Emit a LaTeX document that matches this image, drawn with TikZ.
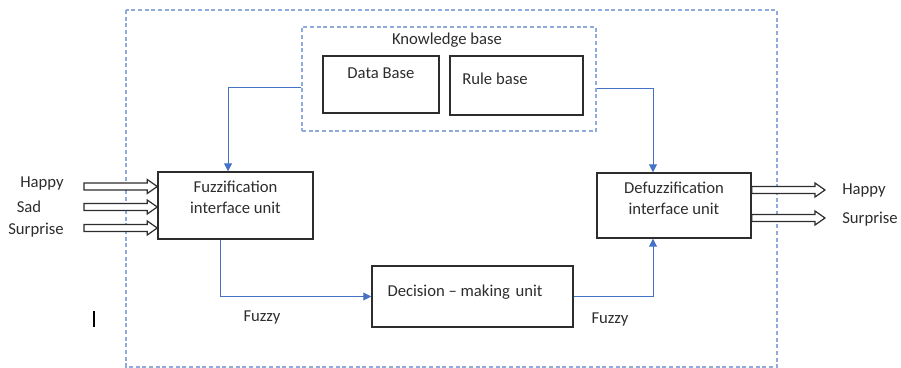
\documentclass[tikz,border=0pt]{standalone}
\usepackage{fontspec}
\setmainfont{Carlito}
\usetikzlibrary{calc,arrows.meta}

\definecolor{azul}{RGB}{68,114,196}
\definecolor{azulclaro}{RGB}{143,170,220}
\definecolor{gris}{RGB}{45,45,45}

% flecha de bloque horizontal: #1 inicio, #2 punta
\newcommand{\flechabloque}[2]{%
  \draw[bloque] let \p1=(#1), \p2=(#2) in
    (\x1,\y1+2.6pt) -- (\x2-7.5pt,\y1+2.6pt) -- (\x2-7.5pt,\y1+5.25pt) -- (\x2,\y1)
    -- (\x2-7.5pt,\y1-5.25pt) -- (\x2-7.5pt,\y1-2.6pt) -- (\x1,\y1-2.6pt) -- cycle;}

\begin{document}
\begin{tikzpicture}[x=0.75pt,y=-0.75pt,
    caja/.style={draw=gris,line width=1.1pt,inner sep=0pt},
    texto/.style={text=gris,font=\fontsize{12.5}{15.75}\selectfont,inner sep=0pt},
    conexion/.style={draw=azul,line width=0.75pt,-{Triangle[width=6pt,length=6pt]}},
    bloque/.style={draw=gris,line width=0.9pt,fill=white,line join=miter},
    discont/.style={draw=azulclaro,line width=1pt,dash pattern=on 3pt off 2pt}]
    \useasboundingbox (0,0) rectangle (901,368);

    % Marco exterior
    \draw[discont] (126,10) rectangle (777,367);

    % Base de conocimiento
    \node[discont,rectangle,minimum width=220.5pt,minimum height=78pt,inner sep=0pt] (kb) at (449,79) {};
    \node[texto] (kbt) at (447,40) {Knowledge base};
    \node[caja,minimum width=87pt,minimum height=42.75pt] (db) at (381,84.5) {};
    \node[texto] (dbt) at (381,73) {Data Base};
    \node[caja,minimum width=99.75pt,minimum height=44.25pt] (rb) at (516.5,85.5) {};
    \node[texto] (rbt) at (495,79) {Rule base};

    % Unidades
    \node[caja,minimum width=116.25pt,minimum height=50.25pt] (fuzz) at (235.5,205.5) {};
    \node[texto,align=center] (fuzzt) at (235.5,197.5) {Fuzzification\\interface unit};
    \node[caja,minimum width=115.5pt,minimum height=48.75pt] (defuzz) at (674,205.5) {};
    \node[texto,align=center] (defuzzt) at (674,198.5) {Defuzzification\\interface unit};
    \node[caja,minimum width=150.75pt,minimum height=45.75pt] (dec) at (472.5,296.5) {};
    \node[texto] (dect) at (465,292) {Decision -- making\,\,unit};

    % Conexiones
    \draw[conexion] ([yshift=-6pt]kb.west) -| ([xshift=-5.6pt]fuzz.north);
    \draw[conexion] ([yshift=-6.75pt]kb.east) -| ([xshift=-15.75pt]defuzz.north);
    \draw[conexion] ([xshift=-10.9pt]fuzz.south) |- (dec.west);
    \draw[conexion] (dec.east) -| ([xshift=-15.75pt]defuzz.south);
    \node[texto] (fz1) at (262,317) {Fuzzy};
    \node[texto] (fz2) at (610,319) {Fuzzy};

    % Entradas
    \node[texto] (inhappy) at (42,183) {Happy};
    \node[texto] (insad) at (29,207) {Sad};
    \node[texto] (insurp) at (36,230) {Surprise};
    \coordinate (a1) at (84,186.5);
    \coordinate (a2) at (84,207);
    \coordinate (a3) at (84,228);
    \flechabloque{a1}{fuzz.west |- a1}
    \flechabloque{a2}{fuzz.west |- a2}
    \flechabloque{a3}{fuzz.west |- a3}

    % Salidas
    \coordinate (b1) at (825,190);
    \coordinate (b2) at (825,218);
    \flechabloque{defuzz.east |- b1}{b1}
    \flechabloque{defuzz.east |- b2}{b2}
    \node[texto] (outhappy) at (864,190) {Happy};
    \node[texto] (outsurp) at (870,219) {Surprise};

    % Marca suelta
    \draw[line width=1.3pt] (94,311) -- (94,327);
\end{tikzpicture}
\end{document}
